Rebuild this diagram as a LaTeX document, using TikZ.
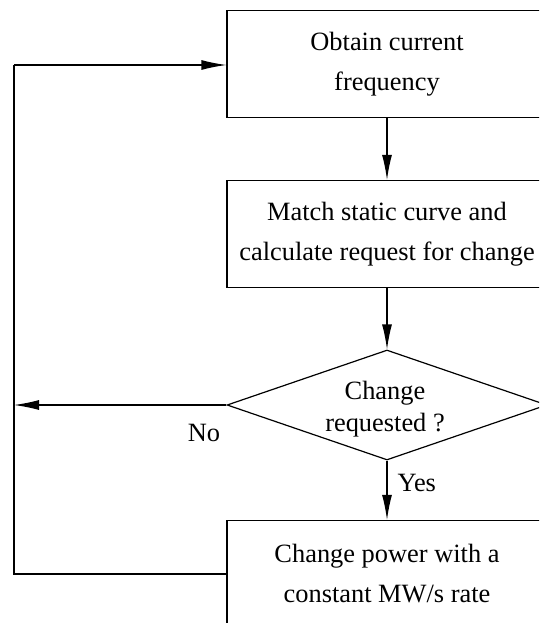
\documentclass[tikz,border=0pt]{standalone}
\usepackage{fontspec}
\setmainfont{Liberation Serif}
\usetikzlibrary{shapes.geometric,arrows.meta}
\begin{document}
\begin{tikzpicture}[x=1pt,y=-1pt,
  every node/.style={font=\fontsize{26.4}{40}\selectfont, inner sep=0pt},
  procbox/.style={draw, line width=1.2pt, minimum width=320pt, minimum height=107pt, align=center},
  decision/.style={draw, line width=1.2pt, diamond, minimum width=320pt, minimum height=110pt, aspect=2.9, align=center},
  flow/.style={line width=1.2pt, -{Latex[length=25pt,width=10pt]}},
  plain/.style={line width=1.2pt}]
\useasboundingbox (0,0) rectangle (539,623);
\clip (0,0) rectangle (539,623);

% process steps
\node[procbox] (obtain) at (387,64) {Obtain current\\frequency};
\node[procbox] (match) at (387,234) {Match static curve and\\calculate request for change};
\node[decision, inner sep=0pt] (ask) at (387,405) {};
\node at (385,393) {Change};
\node at (385,425) {requested ?};
\node[procbox] (power) at (387,574) {Change power with a\\constant MW/s rate};

% loop-back coordinates on the left
\coordinate (lb) at (14,574);
\coordinate (lt) at (14,65);
\coordinate (lm) at (14,405);

% main flow
\draw[flow] (obtain) -- (match);
\draw[flow] (match) -- (ask.north);
\draw[flow] (ask.south) -- node[right=10pt, pos=0.38] {Yes} (power);
\draw[flow] (ask.west) -- (lm);
\node at (204,433) {No};

% return path
\draw[plain] (power.west) -- (lb) -- (lt);
\draw[flow] (lt) -- (obtain.west |- lt);
\end{tikzpicture}
\end{document}
